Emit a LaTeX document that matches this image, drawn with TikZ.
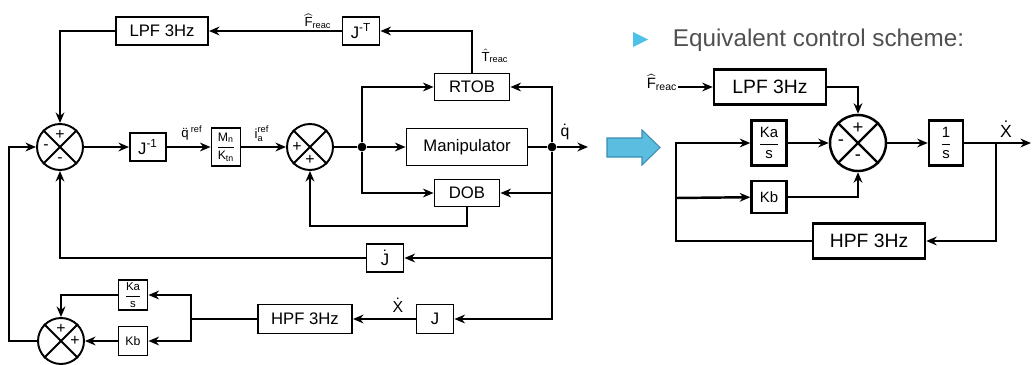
\documentclass[tikz,border=0pt]{standalone}
\usepackage{amsmath}
\usepackage{fontspec}
\setmainfont{Liberation Sans}
\usetikzlibrary{arrows.meta}

\definecolor{titlegray}{RGB}{80,80,80}
\definecolor{bulletcyan}{RGB}{79,193,233}
\definecolor{arrowfill}{RGB}{91,190,224}
\definecolor{arrowedge}{RGB}{60,140,180}

\begin{document}
\begin{tikzpicture}[x=0.02cm, y=-0.02cm, font=\fontsize{9.5}{11}\selectfont, >={Stealth[length=6pt, width=5pt]}, line width=1.1pt,
  blk/.style={draw, fill=white, inner sep=1pt, minimum width=0.74cm, minimum height=0.56cm},
  sumj/.style={draw, circle, minimum size=0.92cm, inner sep=0pt},
  sgn/.style={font=\fontsize{9}{9}\selectfont, inner sep=0pt},
  lbl/.style={font=\fontsize{7.5}{8}\selectfont, inner sep=0pt}]
\useasboundingbox (0,0) rectangle (1032,365);
% ---------- original scheme ----------
\node[blk, minimum width=1.84cm] (lpfl) at (162,31) {LPF 3Hz};
\node[blk] (jmt) at (361,31) {J$^{\text{-T}}$};
\node[sumj] (sumA) at (60,147) {};
\node[blk, minimum width=0.72cm] (jinv) at (148,147) {J$^{\text{-1}}$};
\node[blk, minimum width=0.58cm, minimum height=0.76cm, font=\fontsize{7}{8}\selectfont] (mk) at (226,147) {$\dfrac{\text{M}_\text{n}}{\text{K}_\text{tn}}$};
\node[sumj] (sumB) at (310,147) {};
\node[blk, minimum width=1.5cm, minimum height=0.54cm] (rtob) at (472,87) {RTOB};
\node[blk, minimum width=2.42cm, minimum height=0.74cm] (manip) at (467,147) {Manipulator};
\node[blk, minimum width=1.3cm, minimum height=0.54cm] (dob) at (467,193) {DOB};
\node[blk] (jd) at (385,258) {$\dot{\text{J}}$};
\node[blk, minimum height=0.58cm] (jb) at (435,319) {J};
\node[blk, minimum width=1.88cm, minimum height=0.58cm] (hpfl) at (305,319) {HPF 3Hz};
\node[blk, minimum width=0.58cm, font=\fontsize{6.5}{7}\selectfont] (kal) at (133,295) {$\dfrac{\text{Ka}}{\text{s}}$};
\node[blk, minimum width=0.58cm, minimum height=0.58cm, font=\fontsize{7}{8}\selectfont] (kbl) at (133,341) {Kb};
\node[sumj] (sumC) at (61,341) {};
% junction crosses and signs
\foreach \s in {sumA,sumB,sumC}
  \draw (\s.north west) -- (\s.south east) (\s.north east) -- (\s.south west);
\node[sgn] (sAt) at (60,135) {+};
\node[sgn] (sAl) at (46,147) {-};
\node[sgn] (sAb) at (60,160) {-};
\node[sgn] (sBl) at (297,147) {+};
\node[sgn] (sBb) at (310,160) {+};
\node[sgn] (sCt) at (61,329) {+};
\node[sgn] (sCr) at (75,341) {+};
% points
\node[circle, fill, inner sep=0pt, minimum size=5pt] (split) at (362,147) {};
\node[circle, fill, inner sep=0pt, minimum size=5pt] (qdot) at (552,147) {};
\coordinate (qout) at (588,147);
\coordinate (dobret) at (390,226);
\coordinate (br) at (191,319);
\coordinate (fbl) at (9,240);
% labels
\node[lbl] (lqdd) at (192,133) {$\ddot{\text{q}}^{\,\text{ref}}$};
\node[lbl] (lia) at (262,134) {$\text{i}_\text{a}^\text{ref}$};
\node[lbl] (lfr) at (318,21) {$\widehat{\text{F}}_\text{reac}$};
\node[lbl] (ltr) at (495,56) {$\hat{\text{T}}_\text{reac}$};
\node[lbl, font=\fontsize{9}{9}\selectfont] (lqd) at (565,132) {$\dot{\text{q}}$};
\node[lbl, font=\fontsize{9}{9}\selectfont] (lxd) at (398,305) {$\dot{\text{X}}$};
% forward path
\draw[->] (sumA) -- (jinv);
\draw[->] (jinv) -- (mk);
\draw[->] (mk) -- (sumB);
\draw (sumB) -- (split);
\draw[->] (split) -- (manip);
\draw (manip) -- (qdot);
\draw[->] (qdot) -- (qout);
% observers
\draw[->] (split) |- (rtob);
\draw[->] (split) |- (dob);
\draw[->] (qdot) |- (rtob);
\draw[->] (qdot) |- (dob);
\draw[->] (dob) |- (dobret) -| (sumB);
\draw[->] (rtob) |- (jmt);
\draw[->] (jmt) -- (lpfl);
\draw[->] (lpfl) -| (sumA);
% jacobian feedback
\draw[->] (qdot) |- (jd);
\draw[->] (jd) -| (sumA);
\draw[->] (qdot) |- (jb);
\draw[->] (jb) -- (hpfl);
\draw (hpfl) -- (br);
\draw[->] (br) |- (kal);
\draw[->] (br) |- (kbl);
\draw[->] (kal) -| (sumC);
\draw[->] (kbl) -- (sumC);
\draw[->] (sumC) -| (fbl) |- (sumA);
% ---------- equivalent scheme ----------
\fill[bulletcyan] (633,32) -- (648,39.5) -- (633,47) -- cycle;
\node[anchor=west, text=titlegray, font=\fontsize{13.8}{15}\selectfont, inner sep=0pt] (title) at (672,40) {Equivalent control scheme:};
\filldraw[fill=arrowfill, draw=arrowedge, line width=0.6pt] (607,138) -- (642,138) -- (642,130) -- (660,147.5) -- (642,165) -- (642,157) -- (607,157) -- cycle;
\begin{scope}[line width=1.4pt, font=\fontsize{11}{12}\selectfont]
\node[blk, minimum width=2.24cm, minimum height=0.7cm] (lpfr) at (770,87) {LPF 3Hz};
\node[sumj, minimum size=1.12cm] (sumD) at (858,143) {};
\node[blk, minimum width=0.7cm, minimum height=0.9cm, font=\fontsize{8.5}{9}\selectfont] (kar) at (769,143) {$\dfrac{\text{Ka}}{\text{s}}$};
\node[blk, minimum width=0.7cm, minimum height=0.64cm, font=\fontsize{8.5}{9}\selectfont] (kbr) at (769,197) {Kb};
\node[blk, minimum width=0.68cm, minimum height=0.9cm, font=\fontsize{8.5}{9}\selectfont] (ones) at (946,143) {$\dfrac{\text{1}}{\text{s}}$};
\node[blk, minimum width=2.24cm, minimum height=0.7cm] (hpfr) at (869,241) {HPF 3Hz};
\draw (sumD.north west) -- (sumD.south east) (sumD.north east) -- (sumD.south west);
\node[sgn, font=\fontsize{10.5}{10}\selectfont] (sDt) at (858,128) {+};
\node[sgn, font=\fontsize{10.5}{10}\selectfont] (sDl) at (841,143) {-};
\node[sgn, font=\fontsize{10.5}{10}\selectfont] (sDb) at (858,158) {-};
\node[lbl, font=\fontsize{8.5}{9}\selectfont] (lfrr) at (662,82) {$\widehat{\text{F}}_\text{reac}$};
\node[lbl, font=\fontsize{10}{10}\selectfont] (lxr) at (1006,129) {$\dot{\text{X}}$};
\coordinate (fbtop) at (676,143);
\coordinate (fbmid) at (676,198);
\coordinate (xbr) at (996,143);
\coordinate (xout) at (1031,143);
\draw[->] (lfrr.east |- lpfr) -- (lpfr);
\draw[->] (lpfr) -| (sumD);
\draw[->] (hpfr) -| (fbtop) -- (kar);
\draw[->] (fbmid) -- (kbr);
\draw[->] (kar) -- (sumD);
\draw[->] (kbr) -| (sumD);
\draw[->] (sumD) -- (ones);
\draw[->] (ones) -- (xout);
\draw[->] (xbr) |- (hpfr);
\end{scope}
\end{tikzpicture}
\end{document}
